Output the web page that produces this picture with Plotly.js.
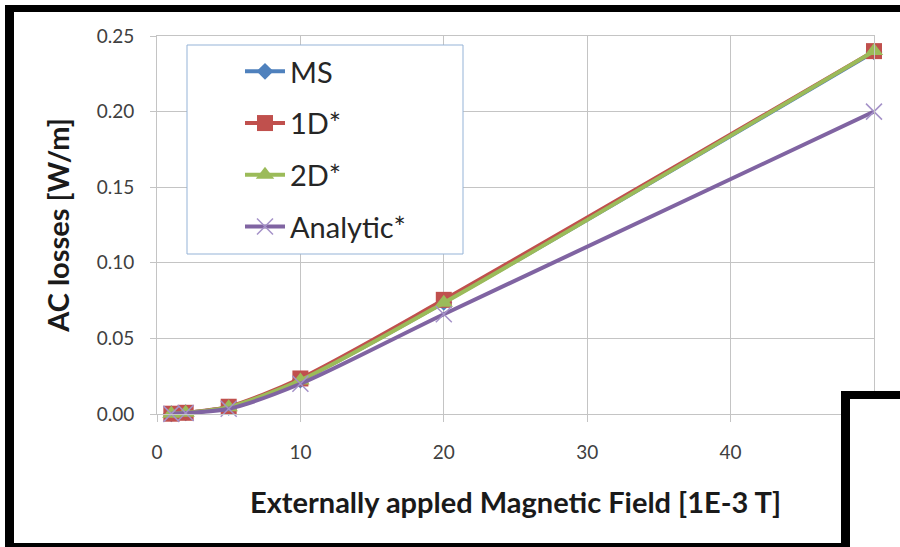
<!DOCTYPE html>
<html>
<head>
<meta charset="utf-8">
<script src="https://cdn.plot.ly/plotly-3.0.1.min.js"></script>
<style>html,body{margin:0;padding:0;background:#fff;}#chart{width:900px;height:547px;}</style>
</head>
<body>
<div id="chart"></div>
<script>
// ---- data ----
const fieldX = [1, 2, 5, 10, 20, 50];
const msLoss = [0.0002, 0.0008, 0.0045, 0.0225, 0.0738, 0.2395];
const oneDLoss = [0.0002, 0.0008, 0.0048, 0.0235, 0.0755, 0.2400];
const twoDLoss = [0.0002, 0.0008, 0.0045, 0.0222, 0.0735, 0.2400];
const analyticLoss = [0.0001, 0.0006, 0.0035, 0.0200, 0.0660, 0.2000];
const seriesNames = ["MS", "1D*", "2D*", "Analytic*"];
const yTitle = "AC losses [W/m]";
const xTitle = "Externally appled Magnetic Field [1E-3 T]";

// ---- layout geometry (pixels) ----
const W = 900, H = 547;
const L = 157, R = 874, T = 36, B = 414;
const px = v => (v - L) / (R - L);
const py = v => (B - v) / (B - T);

const FONT = "Lato, 'Liberation Sans', sans-serif";

function series(name, y, color, symbol, size, group, extraMarker) {
  return {
    x: fieldX, y: y, name: name, type: "scatter", mode: "lines+markers",
    legendgroup: group, cliponaxis: false,
    line: {color: color, width: 4, shape: "spline", smoothing: 0.8},
    marker: Object.assign({symbol: symbol, size: size, color: color}, extraMarker || {})
  };
}

const traces = [
  series(seriesNames[0], msLoss, "#4F81BD", "diamond", 13, "a"),
  series(seriesNames[1], oneDLoss, "#C0504D", "square", 16, "b"),
  series(seriesNames[2], twoDLoss, "#9BBB59", "triangle-up", 16, "c"),
  series(seriesNames[3], analyticLoss, "#8064A2", "x-thin", 16, "d", {line: {width: 1.5, color: "#a491c8"}})
];

function rect(x0, y0, x1, y1, fill, line) {
  return {type: "rect", xref: "paper", yref: "paper", layer: "above",
    x0: px(x0), x1: px(x1), y0: py(y1), y1: py(y0),
    fillcolor: fill, line: line || {width: 0}};
}

const shapes = [
  // legend box
  rect(187, 45, 463, 254, "#ffffff", {color: "#95B3D7", width: 1}),
  // outer black frame
  rect(5, 5, 905, 12, "#000000"),
  rect(5, 5, 14, 550, "#000000"),
  rect(5, 543, 845, 550, "#000000"),
  // overlapping panel bottom-right
  rect(841, 391, 905, 550, "#000000"),
  rect(850, 399, 905, 550, "#ffffff")
];

const layout = {
  width: W, height: H,
  margin: {l: L, r: W - R, t: T, b: H - B, pad: 0},
  paper_bgcolor: "#ffffff", plot_bgcolor: "#ffffff",
  font: {family: FONT, color: "#404040"},
  showlegend: true,
  legend: {
    x: px(240), y: py(46), xanchor: "left", yanchor: "top",
    bgcolor: "rgba(0,0,0,0)", borderwidth: 0,
    itemwidth: 40,
    traceorder: "grouped", tracegroupgap: 11,
    font: {family: FONT, size: 29, color: "#262626"}
  },
  xaxis: {
    range: [0, 50], dtick: 10, tick0: 0,
    showgrid: true, gridcolor: "#c4c4c4", gridwidth: 1,
    zeroline: false, showline: true, linecolor: "#c4c4c4", mirror: true,
    ticks: "outside", ticklen: 7, tickcolor: "#c4c4c4",
    ticklabelstandoff: 14,
    tickfont: {family: FONT, size: 19, color: "#404040"},
    title: {text: xTitle, font: {family: FONT, size: 29, color: "#1a1a1a", weight: "bold"}, standoff: 30},
    automargin: false
  },
  yaxis: {
    range: [0, 0.25], dtick: 0.05, tick0: 0, tickformat: ".2f",
    showgrid: true, gridcolor: "#c4c4c4", gridwidth: 1,
    zeroline: false, showline: true, linecolor: "#c4c4c4", mirror: true,
    ticks: "outside", ticklen: 6, tickcolor: "#c4c4c4",
    ticklabelstandoff: 12,
    tickfont: {family: FONT, size: 19, color: "#404040"},
    title: {text: yTitle, font: {family: FONT, size: 29, color: "#1a1a1a", weight: "bold"}, standoff: 18},
    automargin: false
  },
  shapes: shapes
};

Plotly.newPlot("chart", traces, layout, {staticPlot: true, displayModeBar: false});
</script>
</body>
</html>
